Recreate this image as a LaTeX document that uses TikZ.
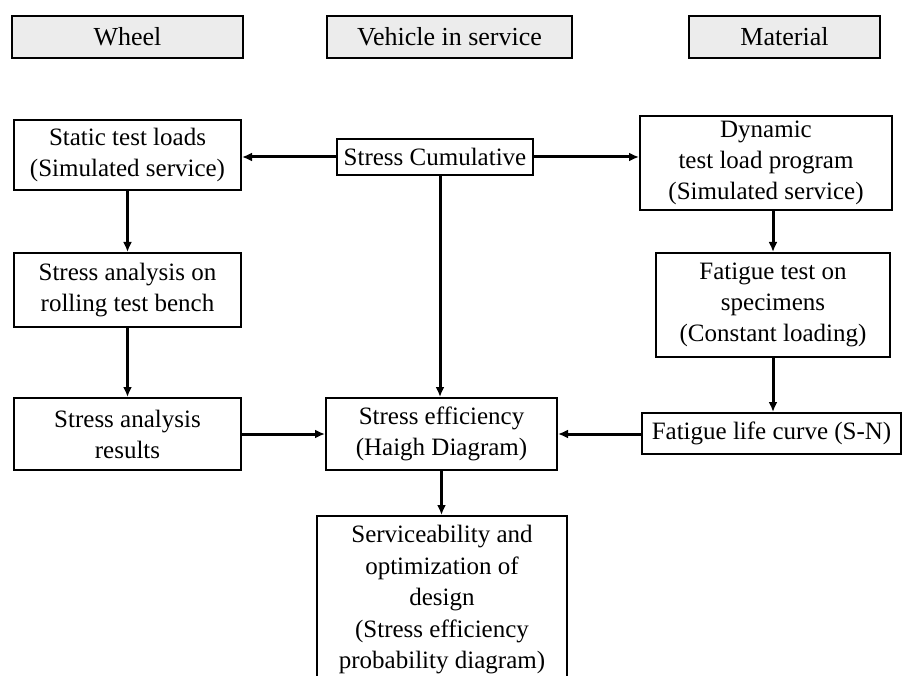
\documentclass[tikz,border=0pt]{standalone}
\usepackage{fontspec}
\setmainfont{Liberation Serif}
\usetikzlibrary{arrows.meta}
\begin{document}
\begin{tikzpicture}[x=1pt,y=-1pt,
  box/.style={draw=black,line width=2pt,fill=white,align=center,inner sep=0pt,font=\fontsize{25}{31}\selectfont},
  hdr/.style={box,fill=gray!15,line width=2.6pt,font=\fontsize{26}{31}\selectfont},
  arr/.style={line width=3pt,-{Latex[length=10pt,width=9pt]}}]
\useasboundingbox (0,0) rectangle (904,676);
% headers
\node[hdr,minimum width=231,minimum height=42] (wheel) at (127.5,37) {Wheel};
\node[hdr,minimum width=245,minimum height=42] (veh) at (449.5,37) {Vehicle in service};
\node[hdr,minimum width=191,minimum height=42] (mat) at (784.5,37) {Material};
% left column
\node[box,minimum width=227,minimum height=70] (static) at (127.5,155) {Static test loads\\(Simulated service)};
\node[box,minimum width=227,minimum height=74] (sarb) at (127.5,290) {Stress analysis on\\rolling test bench};
\node[box,minimum width=227,minimum height=72] (sares) at (127.5,434) {Stress analysis\\results};
% center
\node[box,minimum width=196,minimum height=36] (cum) at (435,157) {Stress Cumulative};
\node[box,minimum width=231,minimum height=72] (eff) at (441.5,434) {Stress efficiency\\(Haigh Diagram)};
\node[box,minimum width=250,minimum height=180,anchor=north] (serv) at (442,515) {};
\node[font=\fontsize{25}{31.5}\selectfont,align=center,anchor=north,inner sep=0pt] (servt) at (442,525) {Serviceability and\\optimization of\\design\\(Stress efficiency\\probability diagram)};
% right column
\node[box,minimum width=252,minimum height=94] (dyn) at (766,163) {Dynamic\\test load program\\(Simulated service)};
\node[box,minimum width=234,minimum height=104] (fat) at (773,305) {Fatigue test on\\specimens\\(Constant loading)};
\node[box,minimum width=259,minimum height=41] (sn) at (771.5,433.5) {Fatigue life curve (S-N)};
% connectors
\coordinate (cdown) at (440,175);
\coordinate (rdown) at (773,210);
\draw[arr] (cum.west) -- (cum.west -| static.east);
\draw[arr] (cum.east) -- (cum.east -| dyn.west);
\draw[arr] (cdown) -- (cdown |- eff.north);
\draw[arr] (static.south) -- (sarb.north);
\draw[arr] (sarb.south) -- (sares.north);
\draw[arr] (rdown) -- (rdown |- fat.north);
\draw[arr] (fat.south) -- (fat.south |- sn.north);
\draw[arr] (sares.east) -- (sares.east -| eff.west);
\draw[arr] (sn.west) -- (sn.west |- eff.east) -- (eff.east);
\draw[arr] (eff.south) -- (eff.south |- serv.north);
\end{tikzpicture}
\end{document}
